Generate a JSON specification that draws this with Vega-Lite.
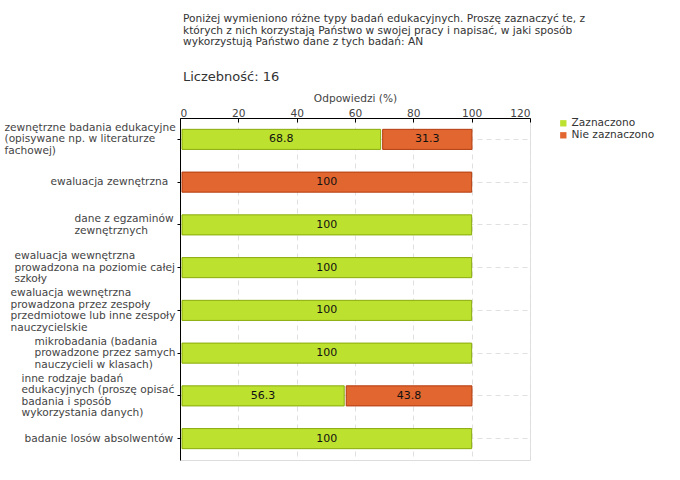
{
  "$schema": "https://vega.github.io/schema/vega-lite/v6.json",
  "width": 350,
  "height": 342,
  "autosize": {"type": "none"},
  "padding": {"left": 180, "top": 118, "right": 150, "bottom": 20},
  "background": "white",
  "title": {
    "text": ["Poniżej wymieniono różne typy badań edukacyjnych. Proszę zaznaczyć te, z", "których z nich korzystają Państwo w swojej pracy i napisać, w jaki sposób", "wykorzystują Państwo dane z tych badań:  AN"],
    "subtitle": "Liczebność: 16",
    "anchor": "start",
    "frame": "group",
    "font": "DejaVu Sans",
    "fontSize": 10.6,
    "fontWeight": "normal",
    "color": "#333333",
    "lineHeight": 11.5,
    "subtitleFont": "DejaVu Sans",
    "subtitleFontSize": 13,
    "subtitleColor": "#333333",
    "subtitlePadding": 23,
    "offset": 9,
    "dx": 3
  },
  "data": {
    "values": [
      {"kategoria": "zewnętrzne badania edukacyjne|(opisywane np. w literaturze|fachowej)", "odp": "Zaznaczono", "wartosc": 68.8, "kol": 1},
      {"kategoria": "zewnętrzne badania edukacyjne|(opisywane np. w literaturze|fachowej)", "odp": "Nie zaznaczono", "wartosc": 31.3, "kol": 2},
      {"kategoria": "ewaluacja zewnętrzna", "odp": "Nie zaznaczono", "wartosc": 100, "kol": 2},
      {"kategoria": "dane z egzaminów|zewnętrznych", "odp": "Zaznaczono", "wartosc": 100, "kol": 1},
      {"kategoria": "ewaluacja wewnętrzna|prowadzona na poziomie całej|szkoły", "odp": "Zaznaczono", "wartosc": 100, "kol": 1},
      {"kategoria": "ewaluacja wewnętrzna|prowadzona przez zespoły|przedmiotowe lub inne zespoły|nauczycielskie", "odp": "Zaznaczono", "wartosc": 100, "kol": 1},
      {"kategoria": "mikrobadania (badania|prowadzone przez samych|nauczycieli w klasach)", "odp": "Zaznaczono", "wartosc": 100, "kol": 1},
      {"kategoria": "inne rodzaje badań|edukacyjnych (proszę opisać|badania i sposób|wykorzystania danych)", "odp": "Zaznaczono", "wartosc": 56.3, "kol": 1},
      {"kategoria": "inne rodzaje badań|edukacyjnych (proszę opisać|badania i sposób|wykorzystania danych)", "odp": "Nie zaznaczono", "wartosc": 43.8, "kol": 2},
      {"kategoria": "badanie losów absolwentów", "odp": "Zaznaczono", "wartosc": 100, "kol": 1}
    ]
  },
  "transform": [
    {"stack": "wartosc", "groupby": ["kategoria"], "sort": [{"field": "kol", "order": "ascending"}], "as": ["start", "end"]},
    {"calculate": "(datum.start + datum.end) / 2", "as": "mid"}
  ],
  "encoding": {
    "y": {
      "field": "kategoria",
      "type": "nominal",
      "sort": null,
      "scale": {"paddingInner": 0.53, "paddingOuter": 0.265},
      "axis": {
        "title": null,
        "labelExpr": "split(datum.value, '|')",
        "labelFont": "DejaVu Sans",
        "labelFontSize": 10.6,
        "labelColor": "#444444",
        "labelLineHeight": 11.5,
        "labelBaseline": "middle",
        "labelAlign": "left",
        "labelOffset": {
          "condition": [
            {"test": "length(split(datum.value, '|')) == 4", "value": -17.25},
            {"test": "length(split(datum.value, '|')) == 3", "value": -11.5},
            {"test": "length(split(datum.value, '|')) == 2", "value": -5.75}
          ],
          "value": 0
        },
        "labelPadding": {
          "condition": [
            {"test": "indexof(datum.value, 'fachowej') >= 0", "value": 173},
            {"test": "datum.value == 'ewaluacja zewnętrzna'", "value": 127},
            {"test": "indexof(datum.value, 'dane z egzaminów') >= 0", "value": 103},
            {"test": "indexof(datum.value, 'całej') >= 0", "value": 163},
            {"test": "indexof(datum.value, 'nauczycielskie') >= 0", "value": 167},
            {"test": "indexof(datum.value, 'mikrobadania') >= 0", "value": 143},
            {"test": "indexof(datum.value, 'inne rodzaje') >= 0", "value": 156}
          ],
          "value": 153
        },
        "labelLimit": 200,
        "domainColor": "#000000",
        "tickColor": "#000000",
        "tickSize": 3,
        "grid": true,
        "gridColor": "#e0e0e0",
        "gridDash": [5, 4]
      }
    }
  },
  "layer": [
    {
      "mark": {"type": "bar", "xOffset": 2, "strokeWidth": 1},
      "encoding": {
        "x": {
          "field": "start",
          "type": "quantitative",
          "scale": {"domain": [0, 120], "nice": false},
          "axis": {
            "orient": "top",
            "title": "Odpowiedzi (%)",
            "titleFont": "DejaVu Sans",
            "titleFontSize": 10.6,
            "titleFontWeight": "normal",
            "titleColor": "#444444",
            "titlePadding": 5,
            "values": [0, 10, 20, 30, 40, 50, 60, 70, 80, 90, 100, 110, 120],
            "labelExpr": "datum.value % 20 === 0 ? datum.label : ''",
            "labelFont": "DejaVu Sans",
            "labelFontSize": 10.6,
            "labelColor": "#444444",
            "labelPadding": 4,
            "domainColor": "#000000",
            "tickColor": {"condition": {"test": "datum.value % 20 !== 0", "value": "#dd0000"}, "value": "#000000"},
            "tickSize": -4,
            "grid": true,
            "gridColor": "#e0e0e0",
            "gridDash": [5, 4],
            "gridOpacity": {"condition": {"test": "datum.value % 20 !== 0 || datum.value === 0", "value": 0}, "value": 1}
          }
        },
        "x2": {"field": "end"},
        "color": {
          "field": "odp",
          "type": "nominal",
          "sort": ["Zaznaczono", "Nie zaznaczono"],
          "scale": {"domain": ["Zaznaczono", "Nie zaznaczono"], "range": ["#bde12f", "#e2662f"]},
          "legend": {
            "title": null,
            "orient": "none",
            "legendX": 378,
            "legendY": 0,
            "symbolType": "square",
            "symbolSize": 40,
            "symbolStrokeWidth": 0,
            "labelFont": "DejaVu Sans",
            "labelFontSize": 10.6,
            "labelColor": "#333333",
            "rowPadding": 1,
            "labelOffset": 3
          }
        },
        "stroke": {
          "field": "odp",
          "type": "nominal",
          "scale": {"domain": ["Zaznaczono", "Nie zaznaczono"], "range": ["#8aab0c", "#b23c10"]},
          "legend": null
        }
      }
    },
    {
      "mark": {"type": "text", "font": "DejaVu Sans", "fontSize": 11, "color": "#111111", "dx": 1},
      "encoding": {
        "x": {"field": "mid", "type": "quantitative"},
        "text": {"field": "wartosc", "type": "quantitative", "format": ".3~"}
      }
    }
  ]
}
